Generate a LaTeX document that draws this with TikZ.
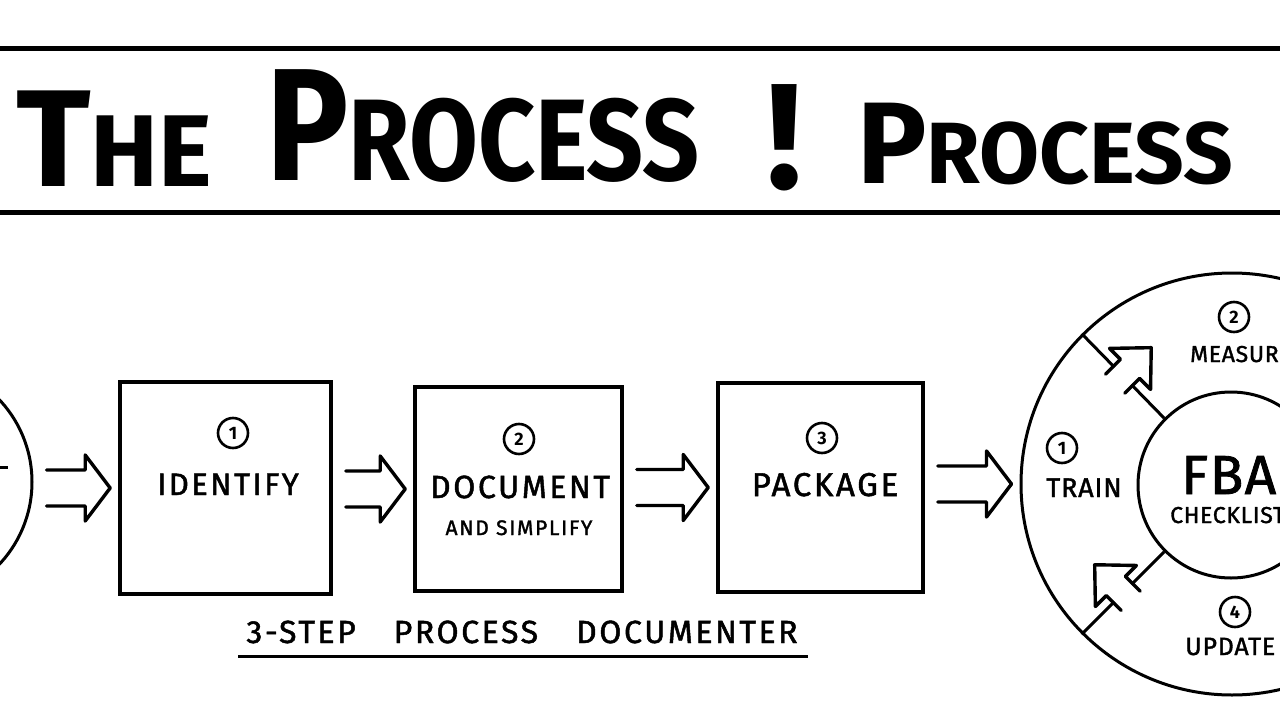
\documentclass[tikz,border=0pt]{standalone}
\usepackage{fontspec}
\usepackage{graphicx}
\setmainfont{Fira Sans}
\newfontfamily\hand{Fira Sans}[FakeBold=1.5, LetterSpace=8]
\newfontfamily\handtight{Fira Sans}[FakeBold=1.5, LetterSpace=3]
\usetikzlibrary{calc,positioning}

% hollow double-line arrow between two nodes
\newcommand{\fatarrow}[2]{%
  \draw[fat] ($(#1.east |- #2.west)+(13,-18)$) -- ($(#2.west)+(-33,-18)$) -- ++(0,-15)
    -- ($(#2.west)+(-8,0)$) -- ($(#2.west)+(-33,33)$) -- ++(0,-15)
    -- ($(#1.east |- #2.west)+(13,18)$);%
}
\newcommand{\fsz}[1]{\fontsize{#1}{#1}\selectfont}

\begin{document}
\begin{tikzpicture}[
    x=1pt, y=-1pt,
    word/.style={inner sep=0pt, anchor=base},
    title/.style={inner sep=0pt, anchor=base west, font=\bfseries},
    numcirc/.style={
        circle, draw, line width=2.6pt, minimum size=30pt,
        inner sep=0pt, font=\bfseries\fsz{18}
    },
    stepbox/.style={draw, line width=3.6pt, fill=white},
    ring/.style={circle, draw, line width=3pt, inner sep=0pt},
    fat/.style={line width=3.4pt, line join=round, line cap=round},
    bar/.style={line width=5pt}
]
\useasboundingbox (0,0) rectangle (1280,720);
\fill[white] (0,0) rectangle (1280,720);
\clip (0,0) rectangle (1280,720);

% title band
\draw[bar] (0,48) -- (1280,48);
\draw[bar] (0,212) -- (1280,212);
\node[title] (the) at (16,186) {\fsz{138}T\fsz{102}HE};
\node[title] (proc) at (266,180)
    {\scalebox{0.86}[1]{\fsz{160}P\fsz{116}ROCESS}};
\node[title] (bang) at (766,188) {\fsz{150}!};
\node[title] (proc2) at (857,183) {\fsz{116}P\fsz{87}ROCESS};

% start circle (cut off at the left)
\node[ring, minimum size=240pt] (start) at (-88,482) {};
\draw[line width=3pt] (-4,467) -- (8,467);

% the three steps
\node[stepbox, minimum width=211pt, minimum height=212pt] (identify) at (225.5,488) {};
\node[stepbox, minimum width=207pt, minimum height=204pt] (document) at (518.5,489) {};
\node[stepbox, minimum width=205pt, minimum height=209pt] (package) at (820.5,487.5) {};

\node[numcirc] (n1) at (233,433) {1};
\node[numcirc] (n2) at (519,439) {2};
\node[numcirc] (n3) at (822,438) {3};

\node[word, font=\hand\fsz{31}] (idtxt) at (228,495) {IDENTIFY};
\node[word, font=\hand\fsz{32}] (doctxt) at (520,498) {DOCUMENT};
\node[word, font=\hand\fsz{21}] (simptxt) at (519,535) {AND SIMPLIFY};
\node[word, font=\hand\fsz{33}] (pkgtxt) at (825,496) {PACKAGE};

\node[word, font=\hand\fsz{32}] (caption) at (522,643)
    {3-STEP\hspace{38pt}PROCESS\hspace{38pt}DOCUMENTER};
\draw[line width=3pt] (238,656) -- (808,656);

% FBA cycle
\node[ring, minimum size=422pt] (cycle) at (1232,484) {};
\node[ring, minimum size=186pt] (hub) at (1231,485) {};

\foreach \ang/\dir in {135/45, 225/135} {
    \draw[line width=3pt] (cycle.\ang) -- (hub.\ang);
    \coordinate (mid) at ($(hub.\ang)!.5!(cycle.\ang)$);
    \begin{scope}[shift={(mid)}, rotate=\dir]
        \fill[white] (-11,-12) rectangle (10,12);
        \draw[fat] (-11,-13.5) -- (10,-13.5) -- (10,-29) -- (40,0)
            -- (10,29) -- (10,13.5) -- (-11,13.5);
    \end{scope}
}

\node[numcirc] (c1) at (1062,448) {1};
\node[word, font=\handtight\fsz{27}] (train) at (1084,497) {TRAIN};
\node[numcirc] (c2) at (1234,317) {2};
\node[word, font=\handtight\fsz{23}, anchor=base west] (measure) at (1190,362) {MEASURE};
\node[numcirc] (c4) at (1235,612) {4};
\node[word, font=\handtight\fsz{25}, anchor=base west] (update) at (1185,655) {UPDATE};
\node[word, font=\handtight\fsz{55}, anchor=base west] (fba) at (1181,494) {FBA};
\node[word, font=\handtight\fsz{23}, anchor=base west] (check) at (1170,523) {CHECKLIST};

% arrows along the chain
\fatarrow{start}{identify}
\fatarrow{identify}{document}
\fatarrow{document}{package}
\fatarrow{package}{cycle}
\end{tikzpicture}
\end{document}
